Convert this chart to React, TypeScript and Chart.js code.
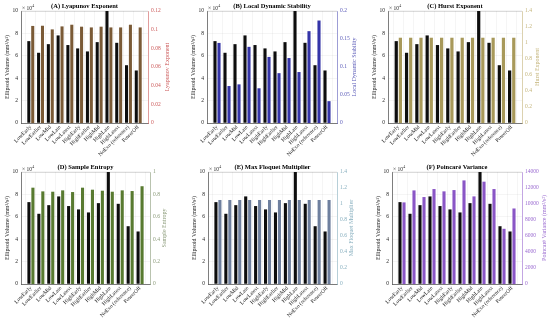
import React, { useEffect, useRef } from 'react';
import { Chart, registerables } from 'chart.js';
Chart.register(...registerables);

const categories = ['LowEarly', 'LowEarlier', 'LowMid', 'LowLate', 'LowLatest', 'HighEarly', 'HighEarlier', 'HighMid', 'HighLate', 'HighLatest', 'NoExo (reference)', 'PowerOff'];
const ellipsoidVolume = [73100, 62700, 70400, 78200, 69600, 66600, 63900, 72200, 100000, 71600, 51600, 46900];
const lyapunovExponent = [0.104, 0.1042, 0.1003, 0.1035, 0.1053, 0.1032, 0.1024, 0.1032, 0.1024, 0.1024, 0.1053, 0.1024];
const localDynamicStability = [0.143, 0.066, 0.069, 0.136, 0.062, 0.118, 0.089, 0.116, 0.091, 0.164, 0.183, 0.039];
const hurstExponent = [1.066, 1.066, 1.066, 1.066, 1.066, 1.066, 1.066, 1.066, 1.066, 1.066, 1.066, 1.066];
const sampleEntropy = [0.86, 0.827, 0.824, 0.836, 0.821, 0.86, 0.842, 0.833, 0.824, 0.836, 0.83, 0.873];
const maxFloquet = [1.05, 1.05, 1.05, 1.05, 1.05, 1.05, 1.05, 1.05, 1.05, 1.05, 1.05, 1.05];
const poincareVariance = [10200, 11700, 10870, 11870, 11580, 11740, 12950, 10950, 12790, 11870, 6900, 9440];

const leftTitle = 'Ellipsoid Volume (mm³/s³)';
const FONT = "'Liberation Serif', 'Times New Roman', serif";

type Panel = {
  title: string; rightTitle: string; values: number[]; color: string; axisColor: string;
  max: number; step: number; area: [number, number, number, number]; rOff: number;
};

const panels: Panel[] = [
  { title: '(A) Lyapunov Exponent', rightTitle: 'Lyapunov Exponent', values: lyapunovExponent, color: '#7a5a36', axisColor: '#cc5a5a', max: 0.12, step: 0.02, area: [21, 148, 11, 123], rOff: 19 },
  { title: '(B) Local Dynamic Stability', rightTitle: 'Local Dynamic Stability', values: localDynamicStability, color: '#3434a8', axisColor: '#5a5ab8', max: 0.2, step: 0.05, area: [207, 337, 11, 123], rOff: 17 },
  { title: '(C) Hurst Exponent', rightTitle: 'Hurst Exponent', values: hurstExponent, color: '#a8995a', axisColor: '#c4b47a', max: 1.4, step: 0.2, area: [388, 522, 11, 123], rOff: 15 },
  { title: '(D) Sample Entropy', rightTitle: 'Sample Entropy', values: sampleEntropy, color: '#587a30', axisColor: '#8a9a78', max: 1, step: 0.2, area: [21, 150, 172, 284], rOff: 14 },
  { title: '(E) Max Floquet Multiplier', rightTitle: 'Max Floquet Multiplier', values: maxFloquet, color: '#6e7f9e', axisColor: '#86aebe', max: 1.4, step: 0.2, area: [208, 337, 172, 284], rOff: 14 },
  { title: '(F) Poincaré Variance', rightTitle: 'Poincaré Variance (mm²/s²)', values: poincareVariance, color: '#8a56c6', axisColor: '#9a6ad0', max: 14000, step: 2000, area: [392, 522, 172, 284], rOff: 22 },
];

const decor = {
  id: 'decor',
  afterDraw(chart: any, _args: any, opts: any) {
    const { ctx, chartArea: a } = chart;
    ctx.save();
    ctx.strokeStyle = 'rgba(38,38,38,0.35)';
    ctx.lineWidth = 0.5;
    ctx.beginPath();
    ctx.moveTo(a.left, a.top + 0.25);
    ctx.lineTo(a.right, a.top + 0.25);
    ctx.stroke();
    ctx.fillStyle = '#000';
    ctx.font = `bold 6.5px ${FONT}`;
    ctx.textAlign = 'center';
    ctx.textBaseline = 'middle';
    ctx.fillText(opts.title, (a.left + a.right) / 2, a.top - 5);
    ctx.fillStyle = '#262626';
    ctx.font = `5.5px ${FONT}`;
    ctx.textAlign = 'left';
    ctx.textBaseline = 'alphabetic';
    const base = '× 10';
    ctx.fillText(base, a.left + 1, a.top - 1.5);
    const w = ctx.measureText(base).width;
    ctx.font = `3.8px ${FONT}`;
    ctx.fillText('4', a.left + 1 + w + 0.3, a.top - 3.8);
    const cy = (a.top + a.bottom) / 2;
    ctx.font = `6px ${FONT}`;
    ctx.textAlign = 'center';
    ctx.textBaseline = 'middle';
    ctx.save();
    ctx.translate(a.left - 14, cy);
    ctx.rotate(-Math.PI / 2);
    ctx.fillText(leftTitle, 0, 0);
    ctx.restore();
    ctx.save();
    ctx.fillStyle = opts.axisColor;
    ctx.translate(a.right + opts.rOff, cy);
    ctx.rotate(-Math.PI / 2);
    ctx.fillText(opts.rightTitle, 0, 0);
    ctx.restore();
    ctx.restore();
  },
};

const fmt = (v: number) => String(Number(v.toFixed(4)));

function PanelChart({ p }: { p: Panel }) {
  const ref = useRef<HTMLCanvasElement>(null);
  useEffect(() => {
    const [l, r, t, b] = p.area;
    const LW = 18, RW = 24, XH = 34;
    const chart = new Chart(ref.current as HTMLCanvasElement, {
      type: 'bar',
      data: {
        datasets: [
          { data: ellipsoidVolume.map((v, i) => ({ x: i + 1, y: v })), backgroundColor: '#0d0d0d', yAxisID: 'y', categoryPercentage: 0.8, barPercentage: 0.78 } as any,
          { data: p.values.map((v, i) => ({ x: i + 1, y: v })), backgroundColor: p.color, yAxisID: 'y1', categoryPercentage: 0.8, barPercentage: 0.78 } as any,
        ],
      },
      options: {
        responsive: false,
        animation: false,
        devicePixelRatio: 1,
        layout: { padding: { left: l - LW, right: 550 - r - RW, top: t, bottom: 323 - b - XH } },
        plugins: { legend: { display: false }, tooltip: { enabled: false }, decor: { title: p.title, rightTitle: p.rightTitle, axisColor: p.axisColor, rOff: p.rOff } } as any,
        scales: {
          x: {
            type: 'linear', min: 0, max: 13, offset: false,
            afterFit: (s: any) => { s.height = XH; },
            ticks: {
              stepSize: 1, autoSkip: false, maxRotation: 45, minRotation: 45, padding: 1,
              color: '#262626', font: { family: FONT, size: 5.5 },
              callback: (v: any) => categories[Number(v) - 1] ?? '',
            },
            grid: { color: 'rgba(0,0,0,0.08)', lineWidth: 0.5, drawTicks: false },
            border: { color: '#262626', width: 0.6 },
          },
          y: {
            position: 'left', min: 0, max: 100000,
            afterFit: (s: any) => { s.width = LW; },
            ticks: { stepSize: 20000, padding: 3, color: '#262626', font: { family: FONT, size: 5.5 }, callback: (v: any) => fmt(Number(v) / 10000) },
            grid: { color: 'rgba(0,0,0,0.08)', lineWidth: 0.5, drawTicks: false },
            border: { color: '#262626', width: 0.6 },
          },
          y1: {
            position: 'right', min: 0, max: p.max,
            afterFit: (s: any) => { s.width = RW; },
            ticks: { stepSize: p.step, padding: 3, color: p.axisColor, font: { family: FONT, size: 5.5 }, callback: (v: any) => fmt(Number(v)) },
            grid: { display: false, drawTicks: false },
            border: { color: p.axisColor, width: 0.6 },
          },
        },
      } as any,
      plugins: [decor],
    });
    return () => chart.destroy();
  }, [p]);
  return <canvas ref={ref} width={550} height={323} style={{ position: 'absolute', left: 0, top: 0, width: 550, height: 323 }} />;
}

export default function App() {
  return (
    <div style={{ position: 'fixed', left: 0, top: 0, width: 550, height: 323, background: '#fff', overflow: 'hidden' }}>
      {panels.map((p) => <PanelChart key={p.title} p={p} />)}
    </div>
  );
}
